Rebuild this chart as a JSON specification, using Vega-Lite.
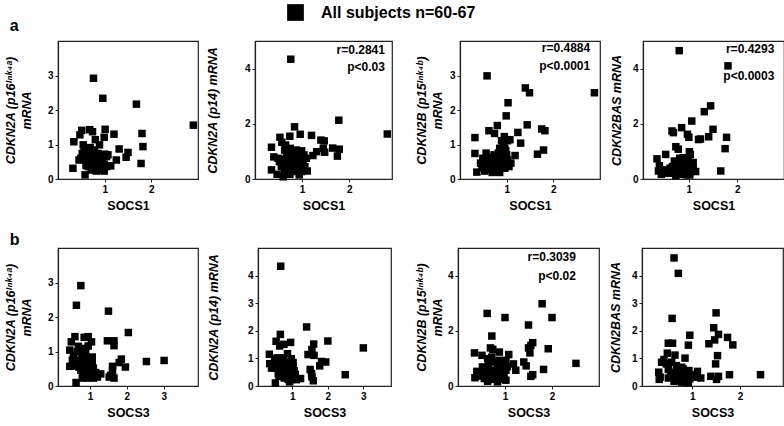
{
"$schema": "https://vega.github.io/schema/vega-lite/v6.json",
"padding": {"left": 3, "top": 3, "right": 0, "bottom": 0},
"background": "white",
"config": {
  "font": "Liberation Sans",
  "view": {"stroke": "#222", "strokeWidth": 1.2},
  "axis": {"grid": false, "domainColor": "#222", "domainWidth": 1.2, "tickColor": "#222", "tickSize": 3, "labelPadding": 2,
           "labelFont": "Liberation Sans", "labelFontWeight": "bold", "labelFontSize": 10, "labelColor": "#000",
           "titleFont": "Liberation Sans", "titleFontWeight": "bold", "titleFontSize": 12.5, "titleColor": "#000"},
  "axisX": {"titlePadding": 5},
  "axisY": {"titleFontStyle": "italic", "titleLineHeight": 16},
  "title": {"font": "Liberation Sans", "fontSize": 16, "fontWeight": "bold", "anchor": "start", "baseline": "alphabetic", "color": "#000"}
},
"datasets": {
"a1": [{"x":0.76,"y":2.92},{"x":0.96,"y":2.34},{"x":1.68,"y":2.17},{"x":2.90,"y":1.56},{"x":1.80,"y":1.32},{"x":1.82,"y":0.94},{"x":1.78,"y":0.45},{"x":1.20,"y":1.30},{"x":1.01,"y":1.44},{"x":0.99,"y":1.21},{"x":1.31,"y":0.87},{"x":1.50,"y":0.77},{"x":1.46,"y":0.63},{"x":1.25,"y":0.55},{"x":1.13,"y":0.38},{"x":0.32,"y":0.31},{"x":0.58,"y":0.12},{"x":0.34,"y":1.08},{"x":0.51,"y":1.41},{"x":0.47,"y":1.28},{"x":0.68,"y":1.43},{"x":0.74,"y":1.37},{"x":0.80,"y":1.14},{"x":0.89,"y":0.99},{"x":0.54,"y":0.99},{"x":0.45,"y":0.55},{"x":0.52,"y":0.74},{"x":0.63,"y":0.79},{"x":0.74,"y":0.70},{"x":0.85,"y":0.74},{"x":0.96,"y":0.68},{"x":1.04,"y":0.65},{"x":1.07,"y":0.70},{"x":0.67,"y":0.50},{"x":0.78,"y":0.45},{"x":0.89,"y":0.50},{"x":0.99,"y":0.43},{"x":0.71,"y":0.26},{"x":0.82,"y":0.23},{"x":0.93,"y":0.26},{"x":0.99,"y":0.23},{"x":0.60,"y":0.39},{"x":0.56,"y":0.84},{"x":0.69,"y":0.91},{"x":0.78,"y":0.84},{"x":0.62,"y":0.65},{"x":0.93,"y":0.60},{"x":0.85,"y":0.36},{"x":0.65,"y":0.36},{"x":0.74,"y":0.36},{"x":1.04,"y":0.36},{"x":0.49,"y":0.60},{"x":0.82,"y":0.55},{"x":0.88,"y":0.62},{"x":0.70,"y":0.75},{"x":0.95,"y":0.50},{"x":0.60,"y":0.55},{"x":1.00,"y":0.72},{"x":0.72,"y":0.58},{"x":0.86,"y":0.30},{"x":0.77,"y":0.33},{"x":0.66,"y":0.85}],
"a2": [{"x":0.76,"y":4.34},{"x":1.78,"y":2.13},{"x":2.81,"y":1.63},{"x":0.84,"y":1.89},{"x":0.96,"y":1.62},{"x":0.74,"y":1.55},{"x":1.20,"y":1.58},{"x":1.40,"y":1.41},{"x":1.47,"y":1.38},{"x":1.65,"y":1.12},{"x":1.79,"y":1.08},{"x":1.75,"y":0.83},{"x":1.45,"y":1.11},{"x":1.48,"y":0.97},{"x":1.31,"y":0.99},{"x":1.23,"y":0.85},{"x":0.35,"y":1.15},{"x":0.53,"y":1.51},{"x":0.57,"y":1.33},{"x":0.35,"y":0.33},{"x":0.47,"y":0.17},{"x":0.60,"y":0.08},{"x":1.11,"y":0.29},{"x":0.40,"y":0.80},{"x":0.63,"y":1.05},{"x":0.70,"y":0.87},{"x":0.79,"y":0.93},{"x":0.88,"y":1.05},{"x":0.99,"y":1.02},{"x":1.04,"y":0.87},{"x":1.09,"y":0.75},{"x":0.52,"y":0.63},{"x":0.60,"y":0.53},{"x":0.67,"y":0.63},{"x":0.77,"y":0.69},{"x":0.86,"y":0.57},{"x":0.95,"y":0.63},{"x":1.02,"y":0.51},{"x":0.70,"y":0.39},{"x":0.81,"y":0.27},{"x":0.90,"y":0.33},{"x":0.99,"y":0.27},{"x":0.63,"y":0.27},{"x":0.74,"y":0.17},{"x":0.84,"y":0.45},{"x":0.49,"y":0.75},{"x":0.75,"y":1.11},{"x":0.65,"y":1.23},{"x":0.91,"y":0.81},{"x":1.00,"y":0.69},{"x":0.56,"y":0.45},{"x":0.77,"y":0.51},{"x":1.06,"y":0.45},{"x":0.67,"y":0.81},{"x":0.94,"y":0.15},{"x":0.72,"y":0.95},{"x":0.82,"y":0.70},{"x":0.93,"y":0.42},{"x":0.58,"y":0.72}],
"a3": [{"x":0.58,"y":2.99},{"x":1.40,"y":2.64},{"x":1.49,"y":2.50},{"x":2.88,"y":2.50},{"x":1.03,"y":2.21},{"x":0.99,"y":1.83},{"x":1.44,"y":1.57},{"x":1.75,"y":1.45},{"x":1.82,"y":1.40},{"x":0.80,"y":1.55},{"x":0.62,"y":1.40},{"x":0.74,"y":1.32},{"x":1.24,"y":1.35},{"x":1.30,"y":1.04},{"x":0.32,"y":1.20},{"x":0.32,"y":0.74},{"x":0.36,"y":0.20},{"x":1.66,"y":0.72},{"x":1.79,"y":0.84},{"x":1.18,"y":0.68},{"x":0.95,"y":1.23},{"x":1.02,"y":1.11},{"x":1.07,"y":1.14},{"x":0.89,"y":1.11},{"x":0.93,"y":0.99},{"x":0.85,"y":0.89},{"x":0.98,"y":0.82},{"x":0.82,"y":0.75},{"x":0.56,"y":0.75},{"x":0.49,"y":0.60},{"x":0.60,"y":0.62},{"x":0.71,"y":0.58},{"x":0.44,"y":0.46},{"x":0.53,"y":0.41},{"x":0.64,"y":0.46},{"x":0.74,"y":0.50},{"x":0.83,"y":0.52},{"x":0.93,"y":0.58},{"x":1.02,"y":0.55},{"x":1.09,"y":0.46},{"x":0.89,"y":0.41},{"x":0.80,"y":0.36},{"x":0.67,"y":0.33},{"x":0.53,"y":0.23},{"x":0.69,"y":0.19},{"x":0.85,"y":0.19},{"x":0.96,"y":0.31},{"x":0.58,"y":0.31},{"x":0.76,"y":0.26},{"x":1.05,"y":0.36},{"x":0.47,"y":0.33},{"x":0.73,"y":0.70},{"x":0.89,"y":0.65},{"x":0.66,"y":0.49},{"x":0.96,"y":0.89},{"x":0.70,"y":0.42},{"x":0.90,"y":0.48},{"x":0.62,"y":0.28},{"x":1.00,"y":0.70},{"x":0.78,"y":0.62}],
"a4": [{"x":0.80,"y":4.65},{"x":1.81,"y":4.10},{"x":1.45,"y":2.65},{"x":1.32,"y":2.44},{"x":1.06,"y":2.10},{"x":1.50,"y":1.80},{"x":1.41,"y":1.53},{"x":1.24,"y":1.45},{"x":1.20,"y":1.43},{"x":1.78,"y":1.51},{"x":1.75,"y":1.10},{"x":1.66,"y":0.29},{"x":0.85,"y":1.86},{"x":0.65,"y":1.74},{"x":0.68,"y":1.68},{"x":0.97,"y":1.62},{"x":1.00,"y":1.51},{"x":0.73,"y":1.17},{"x":0.78,"y":1.08},{"x":0.34,"y":0.73},{"x":0.52,"y":0.89},{"x":1.01,"y":0.99},{"x":1.03,"y":0.89},{"x":0.88,"y":0.77},{"x":1.09,"y":0.60},{"x":0.39,"y":0.48},{"x":0.37,"y":0.29},{"x":0.43,"y":0.17},{"x":0.54,"y":0.27},{"x":0.61,"y":0.39},{"x":0.68,"y":0.33},{"x":0.74,"y":0.24},{"x":0.81,"y":0.33},{"x":0.88,"y":0.45},{"x":0.95,"y":0.36},{"x":1.02,"y":0.27},{"x":1.09,"y":0.39},{"x":1.14,"y":0.27},{"x":0.73,"y":0.12},{"x":0.85,"y":0.17},{"x":0.95,"y":0.15},{"x":0.57,"y":0.21},{"x":0.78,"y":0.57},{"x":0.92,"y":0.63},{"x":0.99,"y":0.69},{"x":0.66,"y":0.45},{"x":0.48,"y":0.33},{"x":1.06,"y":0.51},{"x":0.81,"y":0.75},{"x":0.70,"y":0.65},{"x":0.88,"y":0.21},{"x":0.66,"y":0.21},{"x":0.78,"y":0.41},{"x":1.02,"y":0.15},{"x":0.92,"y":0.55},{"x":0.60,"y":0.30},{"x":0.75,"y":0.50},{"x":1.05,"y":0.45},{"x":0.86,"y":0.28}],
"b1": [{"x":0.75,"y":2.91},{"x":0.63,"y":2.34},{"x":1.50,"y":2.17},{"x":2.04,"y":1.55},{"x":1.65,"y":1.31},{"x":1.47,"y":1.31},{"x":1.65,"y":1.17},{"x":2.53,"y":0.71},{"x":3.01,"y":0.74},{"x":1.85,"y":0.78},{"x":1.96,"y":0.55},{"x":1.79,"y":0.68},{"x":0.59,"y":1.43},{"x":0.49,"y":1.28},{"x":0.84,"y":1.41},{"x":0.95,"y":1.43},{"x":1.04,"y":1.28},{"x":0.95,"y":1.16},{"x":0.45,"y":1.04},{"x":0.62,"y":0.10},{"x":0.79,"y":0.23},{"x":0.45,"y":0.57},{"x":1.61,"y":0.57},{"x":1.61,"y":0.44},{"x":1.56,"y":0.31},{"x":1.65,"y":0.23},{"x":1.52,"y":0.26},{"x":1.29,"y":0.35},{"x":1.20,"y":0.26},{"x":1.09,"y":0.23},{"x":1.00,"y":0.31},{"x":0.55,"y":0.89},{"x":0.65,"y":0.99},{"x":0.76,"y":1.09},{"x":0.88,"y":0.99},{"x":1.06,"y":0.84},{"x":0.65,"y":0.75},{"x":0.79,"y":0.80},{"x":0.93,"y":0.80},{"x":1.06,"y":0.70},{"x":0.56,"y":0.58},{"x":0.70,"y":0.55},{"x":0.84,"y":0.60},{"x":0.97,"y":0.55},{"x":1.09,"y":0.52},{"x":0.75,"y":0.46},{"x":0.88,"y":0.43},{"x":1.02,"y":0.41},{"x":1.15,"y":0.39},{"x":0.84,"y":0.33},{"x":0.93,"y":0.23},{"x":0.52,"y":0.75},{"x":0.79,"y":0.91},{"x":0.72,"y":0.65},{"x":0.60,"y":0.70},{"x":0.90,"y":0.65},{"x":0.68,"y":1.15},{"x":1.10,"y":0.35},{"x":0.80,"y":0.38}],
"b2": [{"x":0.67,"y":4.34},{"x":1.40,"y":2.14},{"x":2.00,"y":1.63},{"x":3.00,"y":1.38},{"x":2.49,"y":0.41},{"x":0.66,"y":1.87},{"x":0.54,"y":1.62},{"x":0.95,"y":1.58},{"x":0.76,"y":1.51},{"x":0.64,"y":1.45},{"x":1.60,"y":1.52},{"x":1.55,"y":1.32},{"x":1.61,"y":1.11},{"x":1.44,"y":1.14},{"x":1.82,"y":0.89},{"x":1.94,"y":0.87},{"x":1.77,"y":0.73},{"x":0.35,"y":1.15},{"x":0.52,"y":0.11},{"x":1.50,"y":0.60},{"x":1.54,"y":0.45},{"x":1.55,"y":0.33},{"x":1.59,"y":0.19},{"x":1.23,"y":0.27},{"x":1.11,"y":0.23},{"x":1.00,"y":0.24},{"x":0.36,"y":0.81},{"x":0.41,"y":0.65},{"x":0.50,"y":0.99},{"x":0.62,"y":0.87},{"x":0.74,"y":1.02},{"x":0.86,"y":1.17},{"x":0.97,"y":0.99},{"x":1.02,"y":0.85},{"x":0.50,"y":0.65},{"x":0.64,"y":0.60},{"x":0.78,"y":0.73},{"x":0.90,"y":0.63},{"x":0.99,"y":0.57},{"x":0.69,"y":0.45},{"x":0.83,"y":0.41},{"x":0.95,"y":0.41},{"x":0.77,"y":0.29},{"x":0.88,"y":0.24},{"x":0.69,"y":0.81},{"x":0.58,"y":1.02},{"x":0.88,"y":0.87},{"x":1.02,"y":0.73},{"x":0.60,"y":0.45},{"x":0.92,"y":0.15},{"x":0.80,"y":0.55},{"x":0.72,"y":0.95},{"x":0.55,"y":0.75},{"x":1.05,"y":0.55},{"x":0.85,"y":0.70},{"x":0.95,"y":0.30},{"x":0.62,"y":0.35},{"x":1.08,"y":0.42}],
"b3": [{"x":1.79,"y":2.98},{"x":2.00,"y":2.48},{"x":0.62,"y":2.63},{"x":1.00,"y":2.48},{"x":1.50,"y":2.21},{"x":0.72,"y":1.81},{"x":1.59,"y":1.57},{"x":1.55,"y":1.47},{"x":1.50,"y":1.38},{"x":1.53,"y":1.20},{"x":1.92,"y":1.35},{"x":0.69,"y":1.38},{"x":0.74,"y":1.33},{"x":0.88,"y":1.23},{"x":0.35,"y":1.20},{"x":0.51,"y":1.11},{"x":1.08,"y":1.14},{"x":2.51,"y":0.82},{"x":1.40,"y":0.87},{"x":1.45,"y":0.73},{"x":1.18,"y":0.80},{"x":1.23,"y":0.57},{"x":1.82,"y":0.60},{"x":1.59,"y":0.41},{"x":1.55,"y":0.35},{"x":0.36,"y":0.30},{"x":1.02,"y":0.21},{"x":0.40,"y":0.53},{"x":0.52,"y":0.69},{"x":0.63,"y":0.99},{"x":0.65,"y":0.73},{"x":0.77,"y":0.87},{"x":0.88,"y":0.93},{"x":1.02,"y":0.93},{"x":0.96,"y":0.77},{"x":0.84,"y":0.69},{"x":0.74,"y":0.57},{"x":0.60,"y":0.48},{"x":0.49,"y":0.36},{"x":0.56,"y":0.27},{"x":0.67,"y":0.39},{"x":0.77,"y":0.41},{"x":0.88,"y":0.51},{"x":0.95,"y":0.39},{"x":0.70,"y":0.24},{"x":0.81,"y":0.27},{"x":0.88,"y":0.24},{"x":0.63,"y":0.17},{"x":0.84,"y":0.15},{"x":0.45,"y":0.51},{"x":1.02,"y":0.57},{"x":0.72,"y":1.05},{"x":0.90,"y":0.60},{"x":0.70,"y":0.50},{"x":0.58,"y":0.60},{"x":0.98,"y":0.45},{"x":0.80,"y":0.35},{"x":0.66,"y":0.90},{"x":1.05,"y":0.70}],
"b4": [{"x":0.62,"y":4.64},{"x":0.71,"y":4.08},{"x":0.58,"y":2.45},{"x":1.50,"y":2.65},{"x":1.45,"y":2.11},{"x":1.55,"y":1.87},{"x":1.47,"y":1.67},{"x":1.74,"y":1.76},{"x":1.85,"y":1.49},{"x":1.35,"y":1.53},{"x":0.95,"y":1.84},{"x":0.92,"y":1.48},{"x":0.50,"y":1.55},{"x":0.59,"y":1.55},{"x":0.48,"y":1.19},{"x":0.64,"y":1.12},{"x":0.85,"y":1.01},{"x":1.53,"y":1.10},{"x":1.49,"y":0.80},{"x":0.30,"y":0.50},{"x":0.31,"y":0.24},{"x":1.39,"y":0.35},{"x":1.51,"y":0.24},{"x":1.55,"y":0.35},{"x":1.78,"y":0.41},{"x":2.43,"y":0.41},{"x":1.18,"y":0.29},{"x":1.11,"y":0.53},{"x":0.36,"y":0.86},{"x":0.41,"y":0.96},{"x":0.46,"y":0.80},{"x":0.57,"y":0.86},{"x":0.67,"y":0.74},{"x":0.78,"y":0.68},{"x":0.50,"y":0.60},{"x":0.60,"y":0.50},{"x":0.71,"y":0.56},{"x":0.81,"y":0.62},{"x":0.88,"y":0.48},{"x":0.99,"y":0.41},{"x":0.33,"y":0.32},{"x":0.50,"y":0.29},{"x":0.64,"y":0.26},{"x":0.74,"y":0.32},{"x":0.85,"y":0.29},{"x":0.95,"y":0.26},{"x":1.06,"y":0.32},{"x":0.78,"y":0.14},{"x":0.92,"y":0.12},{"x":0.62,"y":0.17},{"x":0.69,"y":0.44},{"x":0.93,"y":0.56},{"x":0.55,"y":0.40},{"x":0.72,"y":0.22},{"x":0.88,"y":0.20},{"x":1.02,"y":0.35},{"x":0.80,"y":0.45}]
},
"spacing": 19,
"vconcat": [
 {"title": {"text": "a", "offset": 6, "dx": 6},
  "spacing": 21,
  "hconcat": [
   {"spacing": 6, "hconcat": [
    {"width": 140, "height": 138, "data": {"name": "a1"},
     "mark": {"type": "point", "shape": "square", "filled": true, "color": "black", "size": 56, "opacity": 1},
     "encoding": {
       "x": {"field": "x", "type": "quantitative", "scale": {"domain": [0, 3], "nice": false, "zero": false}, "axis": {"values": [1, 2], "title": "SOCS1"}},
       "y": {"field": "y", "type": "quantitative", "scale": {"domain": [0, 4], "nice": false}, "axis": {"values": [0, 1, 2, 3], "title": ["CDKN2A (p16ᴵⁿᵏ⁴ᵃ)", "mRNA"], "titlePadding": 14}},
       "shape": {"datum": "All subjects n=60-67", "type": "nominal", "scale": {"range": ["square"]},
                 "legend": {"orient": "none", "legendX": 228, "legendY": -38, "title": null, "labelFontSize": 16, "labelFontWeight": "bold", "labelColor": "#000", "symbolSize": 280, "symbolFillColor": "#000", "symbolStrokeColor": "#000", "labelOffset": 16}}
     }},
    {"width": 137, "height": 138,
     "layer": [
      {"data": {"name": "a2"},
       "mark": {"type": "point", "shape": "square", "filled": true, "color": "black", "size": 56, "opacity": 1},
       "encoding": {
         "x": {"field": "x", "type": "quantitative", "scale": {"domain": [0, 2.91], "nice": false, "zero": false}, "axis": {"values": [1, 2], "title": "SOCS1"}},
         "y": {"field": "y", "type": "quantitative", "scale": {"domain": [0, 5], "nice": false}, "axis": {"values": [0, 1, 2, 3, 4], "title": "CDKN2A (p14) mRNA", "titlePadding": 25}}
       }},
      {"data": {"values": [{"x": 2.76, "y": 4.68, "t": "r=0.2841"}, {"x": 2.76, "y": 4.05, "t": "p<0.03"}]},
       "mark": {"type": "text", "align": "right", "baseline": "middle", "fontWeight": "bold", "fontSize": 12, "color": "#000"},
       "encoding": {"x": {"field": "x", "type": "quantitative"}, "y": {"field": "y", "type": "quantitative"}, "text": {"field": "t"}}}
     ]}
   ]},
   {"spacing": 8, "hconcat": [
    {"width": 140, "height": 138,
     "layer": [
      {"data": {"name": "a3"},
       "mark": {"type": "point", "shape": "square", "filled": true, "color": "black", "size": 56, "opacity": 1},
       "encoding": {
         "x": {"field": "x", "type": "quantitative", "scale": {"domain": [0, 3], "nice": false, "zero": false}, "axis": {"values": [1, 2], "title": "SOCS1"}},
         "y": {"field": "y", "type": "quantitative", "scale": {"domain": [0, 4], "nice": false}, "axis": {"values": [0, 1, 2, 3], "title": ["CDKN2B (p15ᴵⁿᵏ⁴ᵇ)", "mRNA"], "titlePadding": 5}}
       }},
      {"data": {"values": [{"x": 2.79, "y": 3.81, "t": "r=0.4884"}, {"x": 2.79, "y": 3.27, "t": "p<0.0001"}]},
       "mark": {"type": "text", "align": "right", "baseline": "middle", "fontWeight": "bold", "fontSize": 12, "color": "#000"},
       "encoding": {"x": {"field": "x", "type": "quantitative"}, "y": {"field": "y", "type": "quantitative"}, "text": {"field": "t"}}}
     ]},
    {"width": 141, "height": 138,
     "layer": [
      {"data": {"name": "a4"},
       "mark": {"type": "point", "shape": "square", "filled": true, "color": "black", "size": 56, "opacity": 1},
       "encoding": {
         "x": {"field": "x", "type": "quantitative", "scale": {"domain": [0.05, 2.97], "nice": false, "zero": false}, "axis": {"values": [1, 2], "title": "SOCS1"}},
         "y": {"field": "y", "type": "quantitative", "scale": {"domain": [0, 5], "nice": false}, "axis": {"values": [0, 1, 2, 3, 4], "title": "CDKN2BAS mRNA", "titlePadding": 9}}
       }},
      {"data": {"values": [{"x": 2.77, "y": 4.71, "t": "r=0.4293"}, {"x": 2.77, "y": 3.75, "t": "p<0.0003"}]},
       "mark": {"type": "text", "align": "right", "baseline": "middle", "fontWeight": "bold", "fontSize": 12, "color": "#000"},
       "encoding": {"x": {"field": "x", "type": "quantitative"}, "y": {"field": "y", "type": "quantitative"}, "text": {"field": "t"}}}
     ]}
   ]}
  ]},
 {"title": {"text": "b", "offset": -1, "dx": 6},
  "spacing": 22,
  "hconcat": [
   {"spacing": 7, "hconcat": [
    {"width": 140, "height": 138, "data": {"name": "b1"},
     "mark": {"type": "point", "shape": "square", "filled": true, "color": "black", "size": 56, "opacity": 1},
     "encoding": {
       "x": {"field": "x", "type": "quantitative", "scale": {"domain": [0.13, 3.93], "nice": false, "zero": false}, "axis": {"values": [1, 2, 3], "title": "SOCS3"}},
       "y": {"field": "y", "type": "quantitative", "scale": {"domain": [0, 4], "nice": false}, "axis": {"values": [0, 1, 2, 3], "title": ["CDKN2A (p16ᴵⁿᵏ⁴ᵃ)", "mRNA"], "titlePadding": 14}}
     }},
    {"width": 133, "height": 138, "data": {"name": "b2"},
     "mark": {"type": "point", "shape": "square", "filled": true, "color": "black", "size": 56, "opacity": 1},
     "encoding": {
       "x": {"field": "x", "type": "quantitative", "scale": {"domain": [0.03, 3.78], "nice": false, "zero": false}, "axis": {"values": [1, 2, 3], "title": "SOCS3"}},
       "y": {"field": "y", "type": "quantitative", "scale": {"domain": [0, 5], "nice": false}, "axis": {"values": [0, 1, 2, 3, 4], "title": "CDKN2A (p14) mRNA", "titlePadding": 27}}
     }}
   ]},
   {"spacing": 8, "hconcat": [
    {"width": 141, "height": 138,
     "layer": [
      {"data": {"name": "b3"},
       "mark": {"type": "point", "shape": "square", "filled": true, "color": "black", "size": 56, "opacity": 1},
       "encoding": {
         "x": {"field": "x", "type": "quantitative", "scale": {"domain": [0, 3], "nice": false, "zero": false}, "axis": {"values": [1, 2], "title": "SOCS3"}},
         "y": {"field": "y", "type": "quantitative", "scale": {"domain": [0, 5], "nice": false}, "axis": {"values": [0, 1, 2, 3, 4], "title": ["CDKN2B (p15ᴵⁿᵏ⁴ᵇ)", "mRNA"], "titlePadding": 3}}
       }},
      {"data": {"values": [{"x": 2.51, "y": 4.68, "t": "r=0.3039"}, {"x": 2.51, "y": 3.98, "t": "p<0.02"}]},
       "mark": {"type": "text", "align": "right", "baseline": "middle", "fontWeight": "bold", "fontSize": 12, "color": "#000"},
       "encoding": {"x": {"field": "x", "type": "quantitative"}, "y": {"field": "y", "type": "quantitative"}, "text": {"field": "t"}}}
     ]},
    {"width": 141, "height": 138, "data": {"name": "b4"},
     "mark": {"type": "point", "shape": "square", "filled": true, "color": "black", "size": 56, "opacity": 1},
     "encoding": {
       "x": {"field": "x", "type": "quantitative", "scale": {"domain": [-0.05, 2.9], "nice": false, "zero": false}, "axis": {"values": [1, 2], "title": "SOCS3"}},
       "y": {"field": "y", "type": "quantitative", "scale": {"domain": [0, 5], "nice": false}, "axis": {"values": [0, 1, 2, 3, 4], "title": "CDKN2BAS mRNA", "titlePadding": 9}}
     }}
   ]}
  ]}
]
}
